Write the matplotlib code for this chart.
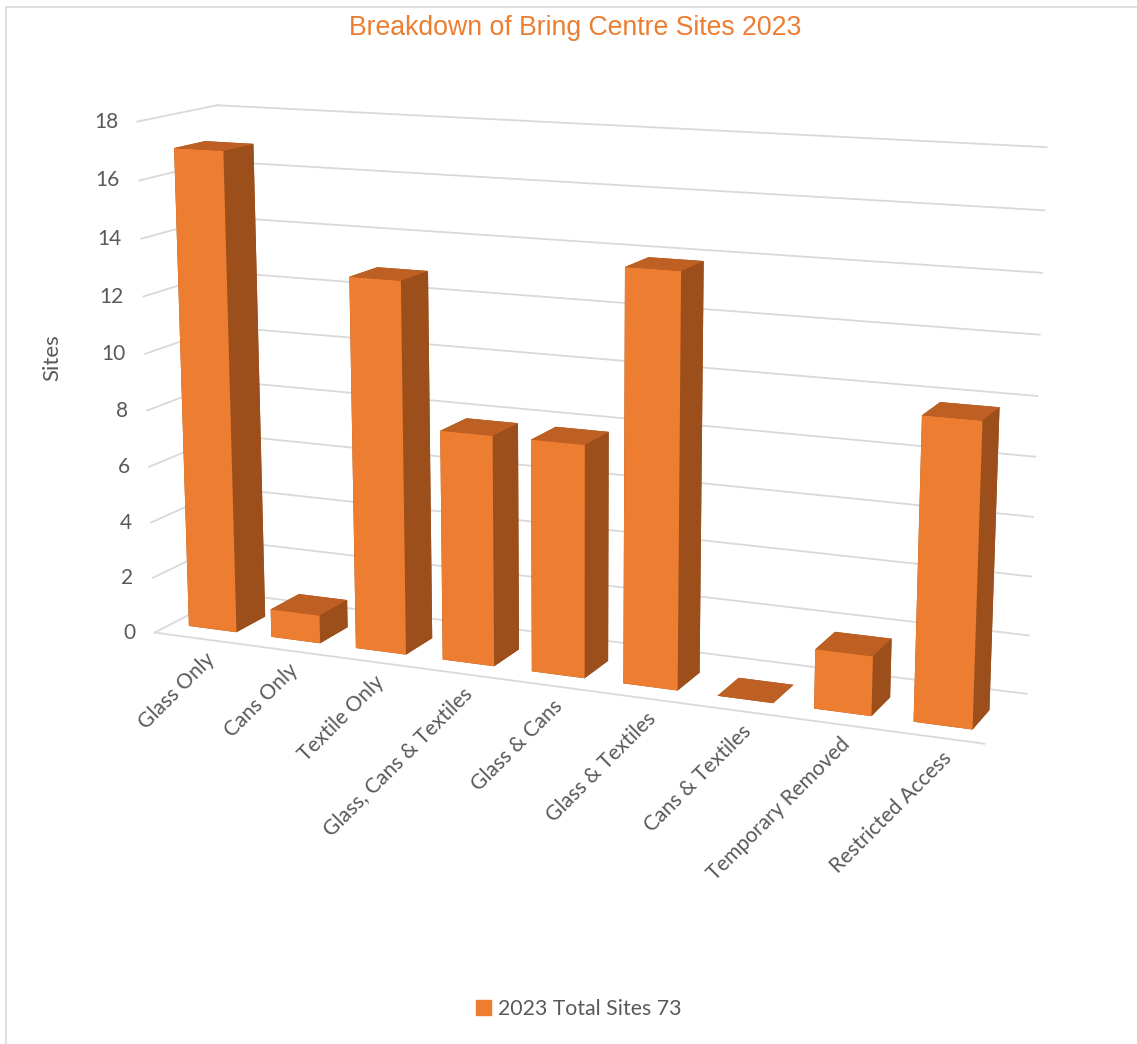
import matplotlib
matplotlib.use("Agg")
import matplotlib.pyplot as plt
from matplotlib.lines import Line2D
from mpl_toolkits.mplot3d import proj3d
import numpy as np

categories = ["Glass Only", "Cans Only", "Textile Only", "Glass, Cans & Textiles",
              "Glass & Cans", "Glass & Textiles", "Cans & Textiles",
              "Temporary Removed", "Restricted Access"]
sites = [17, 1, 13, 8, 8, 14, 0, 2, 10]
z_ticks = [0, 2, 4, 6, 8, 10, 12, 14, 16, 18]
title = "Breakdown of Bring Centre Sites 2023"
series_name = "2023 Total Sites 73"
y_label = "Sites"

ORANGE = "#ED7D31"
TOP = "#BE6024"
SIDE = "#9C4F1B"
GRID = "#D9D9D9"
TXT = "#595959"

plt.rcParams['font.family'] = ['Lato', 'DejaVu Sans']

fig = plt.figure(figsize=(11.37, 10.44), dpi=100)
ax = fig.add_axes([0.0365, 0.102, 0.9147, 0.996], projection='3d', computed_zorder=False)

n = len(categories)
bw = 0.58
bd = 0.62
depth = 1.6
y0 = 0.35
xs = np.arange(n) - bw / 2
ax.set_xlim(-0.5, n - 0.5)
ax.set_ylim(0, depth)
ax.set_zlim(0, 18)
ax.set_box_aspect((9, depth, 5.42), zoom=0.99)
ax.set_proj_type('persp', focal_length=0.5)
ax.view_init(elev=12.5, azim=-67)
ax.set_axis_off()

# gridlines: back wall, side wall, floor front edge
for v in z_ticks:
    ax.plot([-0.5, n - 0.5], [depth, depth], [v, v], color=GRID, lw=1.3, zorder=1)
    ax.plot([-0.5, -0.5], [0, depth], [v, v], color=GRID, lw=1.3, zorder=1)
ax.plot([-0.5, n - 0.5], [0, 0], [0, 0], color=GRID, lw=1.3, zorder=1)

# face colours per bar: [-z, +z, -y (front), +y, -x, +x (right)]
face_cols = [SIDE, TOP, ORANGE, SIDE, SIDE, SIDE] * n
ax.bar3d(xs, np.full(n, y0), np.zeros(n), bw, bd, np.array(sites, float),
         color=face_cols, shade=False, zorder=2, edgecolor='none')

M = ax.get_proj()
for v in z_ticks:
    px, py, _ = proj3d.proj_transform(-0.5, 0, v, M)
    ax.annotate(str(v), xy=(px, py), xycoords='data', xytext=(-14, 0),
                textcoords='offset points', ha='right', va='center',
                fontsize=15, color=TXT, annotation_clip=False)
for i, lab in enumerate(categories):
    px, py, _ = proj3d.proj_transform(i, 0, 0, M)
    ax.annotate(lab, xy=(px, py), xycoords='data', xytext=(6, -8),
                textcoords='offset points', ha='right', va='top', rotation=45,
                rotation_mode='anchor', fontsize=15, color=TXT,
                annotation_clip=False)

fig.text(0.506, 0.973, title, ha='center', va='center', fontsize=19.2,
         color=ORANGE, family=['Liberation Sans', 'DejaVu Sans'])
fig.text(0.046, 0.657, y_label, rotation=90, ha='center', va='center',
         fontsize=16, color=TXT)

leg = fig.legend(handles=[plt.Rectangle((0, 0), 1, 1, color=ORANGE)],
                 labels=[series_name], loc='center', bbox_to_anchor=(0.509, 0.034),
                 frameon=False, fontsize=15.3, handlelength=0.7, handleheight=0.7,
                 handletextpad=0.3, labelcolor=TXT)

fig.add_artist(Line2D([0.0053, 0.0053], [0, 0.9933], color=GRID, lw=1.2))
fig.add_artist(Line2D([0.0053, 1], [0.9933, 0.9933], color=GRID, lw=1.2))

fig.savefig("out.png", dpi=100, facecolor='white')
